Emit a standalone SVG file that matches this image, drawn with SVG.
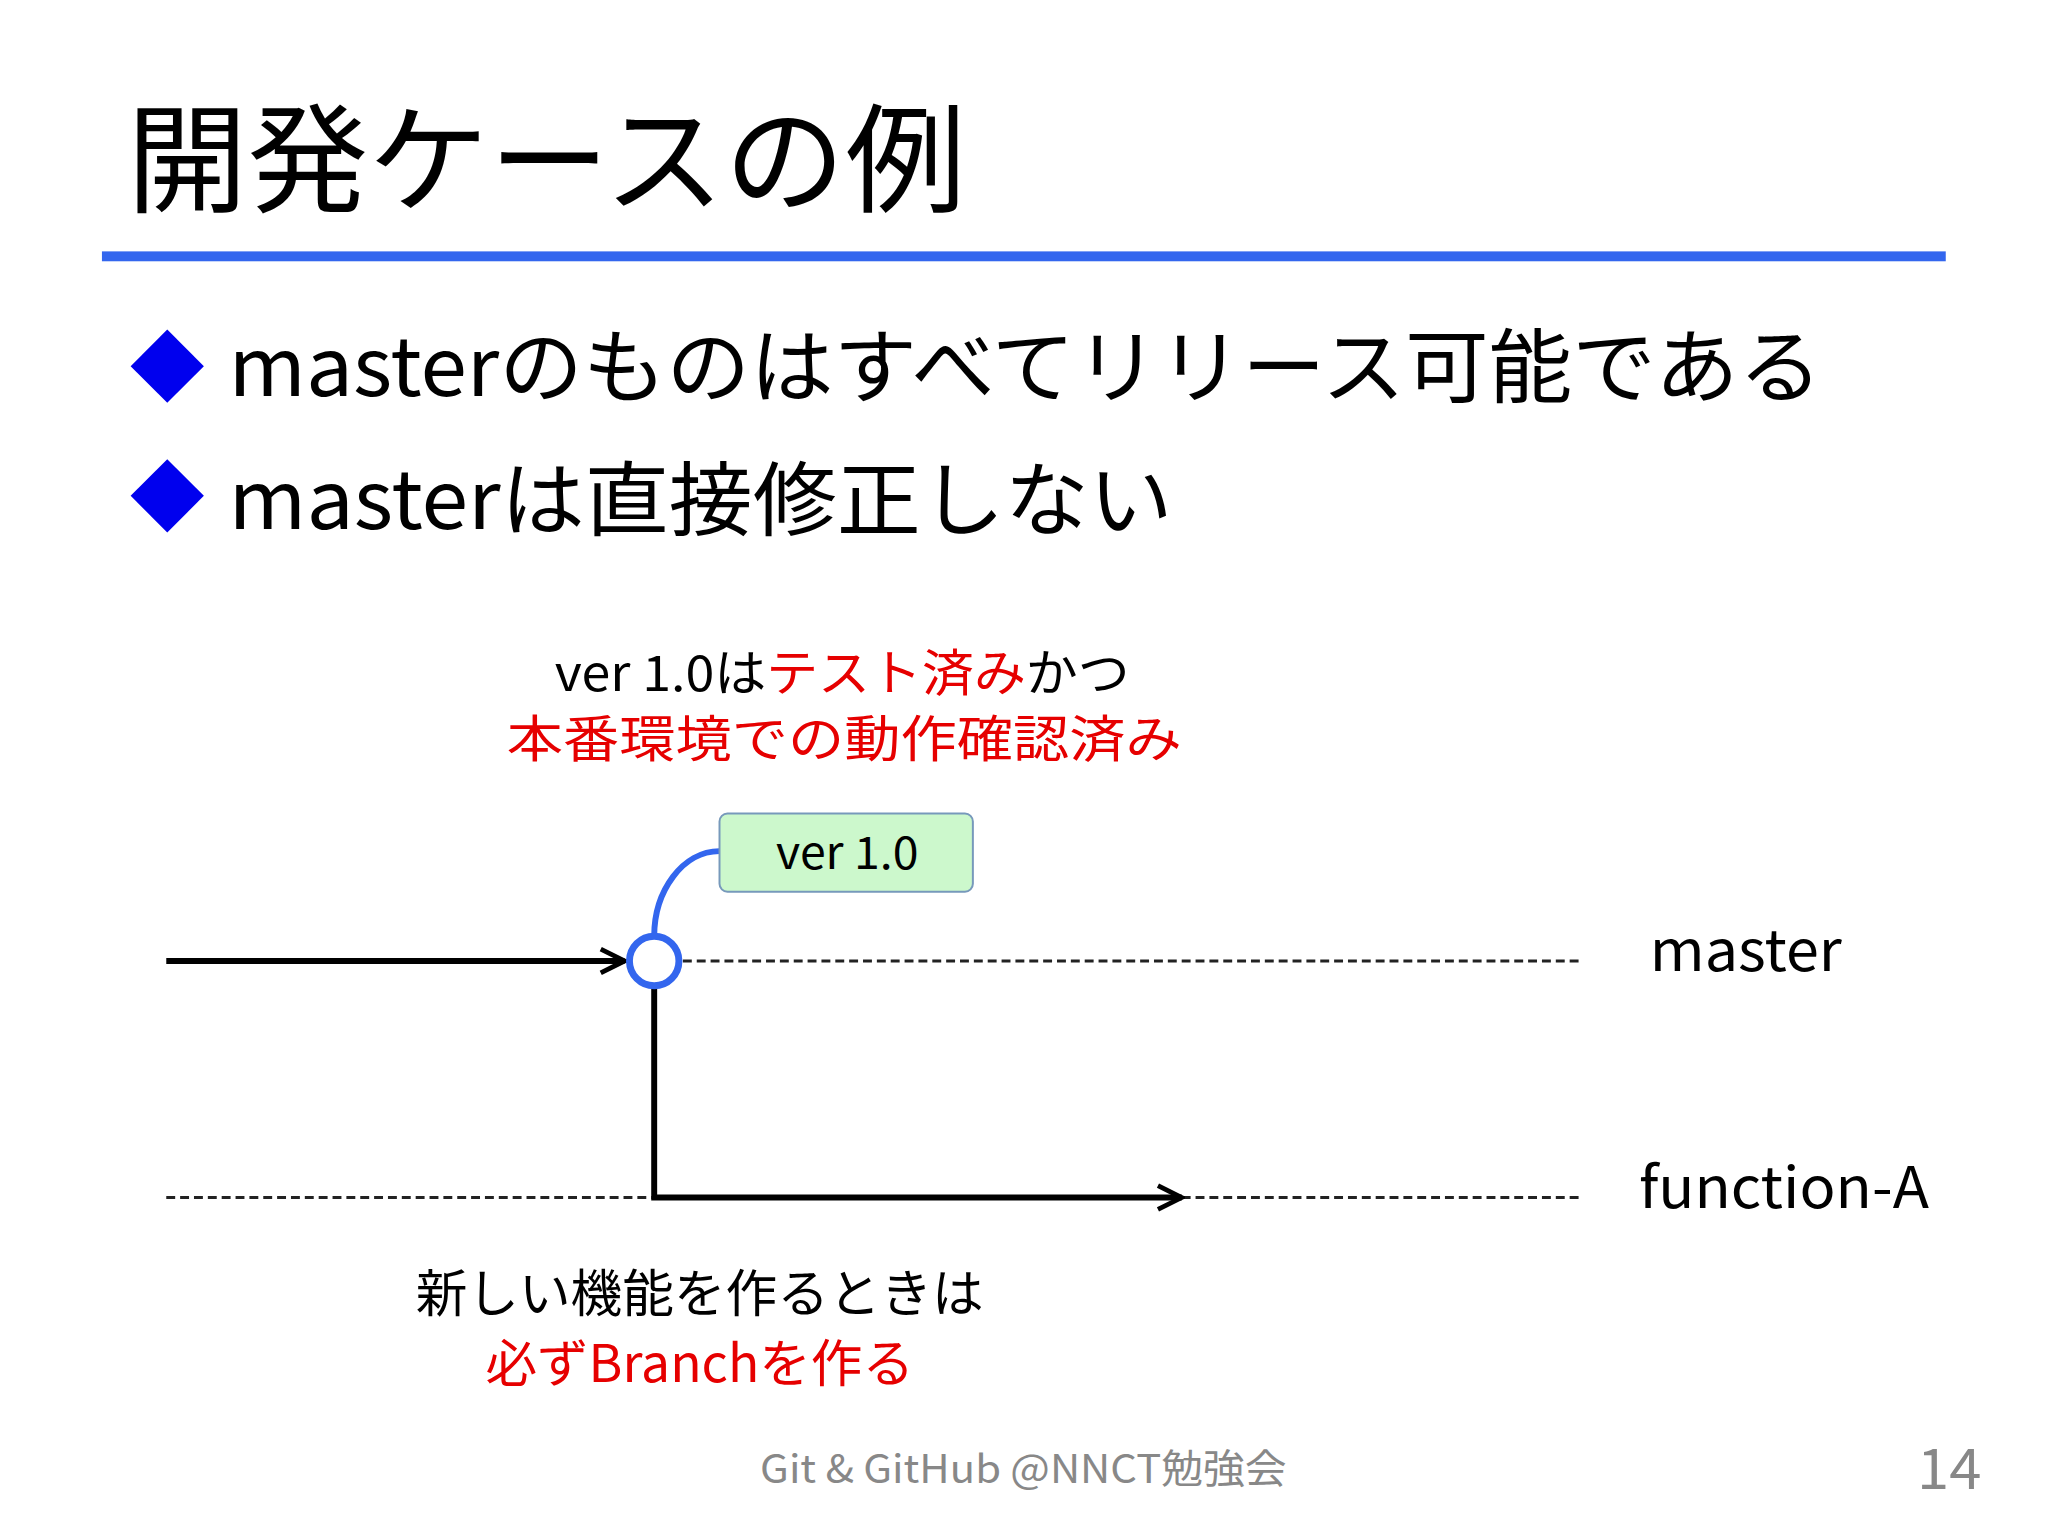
<svg xmlns="http://www.w3.org/2000/svg" width="2048" height="1536" viewBox="0 0 2048 1536">
<style>
text{font-family:"Noto Sans CJK JP","Noto Sans",sans-serif;fill:#000}
.red{fill:#e60000}
.solid{stroke:#000;stroke-width:6;fill:none}
.dash{stroke:#222;stroke-width:3;stroke-dasharray:9 5;fill:none}
</style>
<defs>
<marker id="ah" viewBox="0 0 10 10" refX="9" refY="5" markerWidth="5" markerHeight="5" orient="auto" markerUnits="strokeWidth">
<path d="M1 1 L9 5 L1 9" fill="none" stroke="#000" stroke-width="1.6"/>
</marker>
</defs>
<rect width="2048" height="1536" fill="#fff"/>
<g transform="scale(0.9897)">
<g id="title">
<text x="128" y="205" font-size="120" textLength="848" lengthAdjust="spacingAndGlyphs">開発ケースの例</text>
<rect x="103" y="254" width="1863" height="10" fill="#3366ee"/>
</g>
<g id="bullets">
<polygon points="169,333 206,370 169,407 132,370" fill="#0000ee"/>
<text x="231" y="400" font-size="82" textLength="1610" lengthAdjust="spacingAndGlyphs">masterのものはすべてリリース可能である</text>
<polygon points="169,464 206,501 169,538 132,501" fill="#0000ee"/>
<text x="231" y="535" font-size="82" textLength="954" lengthAdjust="spacingAndGlyphs">masterは直接修正しない</text>
</g>
<g id="note-top" text-anchor="middle" font-size="50">
<text x="851" y="698" textLength="581" lengthAdjust="spacingAndGlyphs">ver 1.0は<tspan class="red">テスト済み</tspan>かつ</text>
<text x="853" y="765" class="red" textLength="682" lengthAdjust="spacingAndGlyphs">本番環境での動作確認済み</text>
</g>
<g id="connectors">
<line class="dash" x1="690" y1="971" x2="1599" y2="971"/>
<line class="dash" x1="168" y1="1210" x2="660" y2="1210"/>
<line class="dash" x1="1194" y1="1210" x2="1599" y2="1210"/>
<line class="solid" x1="168" y1="971" x2="631" y2="971" marker-end="url(#ah)"/>
<polyline class="solid" points="661,996 661,1210 1194,1210" marker-end="url(#ah)"/>
<path d="M661 946 C661 900 690 860 727 860" stroke="#3366ee" stroke-width="6" fill="none"/>
</g>
<g id="tag">
<rect x="727" y="822" width="256" height="79" rx="8" fill="#ccf8cc" stroke="#7799bb" stroke-width="2"/>
<text x="856" y="878" font-size="46" text-anchor="middle" textLength="144" lengthAdjust="spacingAndGlyphs">ver 1.0</text>
</g>
<g id="commit">
<circle cx="661" cy="971" r="25" fill="#fff" stroke="#3366ee" stroke-width="7"/>
</g>
<g id="labels" font-size="58">
<text x="1667" y="981" textLength="194" lengthAdjust="spacingAndGlyphs">master</text>
<text x="1656" y="1221" textLength="293" lengthAdjust="spacingAndGlyphs">function-A</text>
</g>
<g id="note-bottom" text-anchor="middle" font-size="52">
<text x="707" y="1326" textLength="574" lengthAdjust="spacingAndGlyphs">新しい機能を作るときは</text>
<text x="707" y="1396" class="red" textLength="433" lengthAdjust="spacingAndGlyphs">必ずBranchを作る</text>
</g>
<g id="footer">
<text x="1034" y="1498" font-size="40" text-anchor="middle" style="fill:#888" textLength="532" lengthAdjust="spacingAndGlyphs">Git &amp; GitHub @NNCT勉強会</text>
<text x="1937" y="1504" font-size="56" style="fill:#888" textLength="65" lengthAdjust="spacingAndGlyphs">14</text>
</g>
</g>
</svg>
